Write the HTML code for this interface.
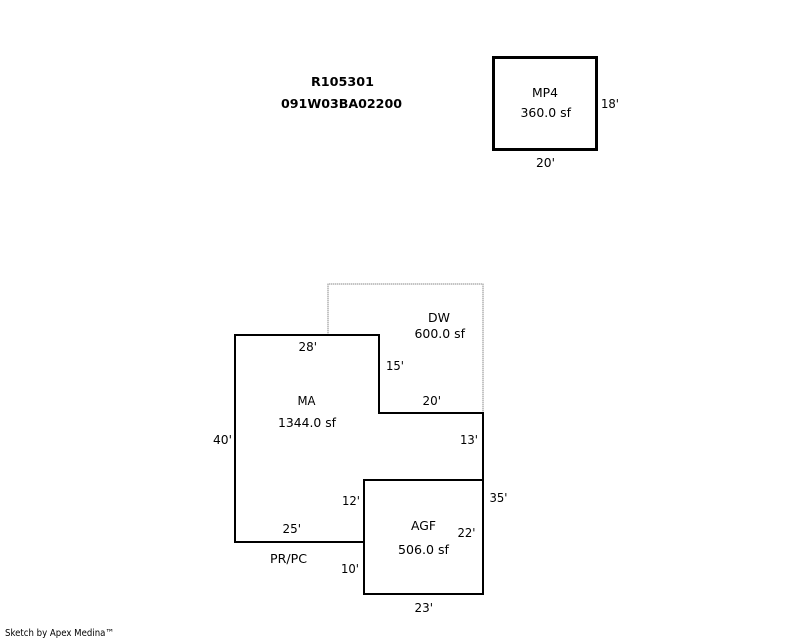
<!DOCTYPE html>
<html>
<head>
<meta charset="utf-8">
<style>
html,body{margin:0;padding:0;background:#fff;width:800px;height:640px;overflow:hidden}
svg{display:block}
text{font-family:"DejaVu Sans","Liberation Sans",sans-serif;font-size:12px;fill:#000}
.b{font-weight:bold}
</style>
</head>
<body>
<svg width="800" height="640" viewBox="0 0 800 640" xmlns="http://www.w3.org/2000/svg">
<path d="M328 335V284H483V413" fill="none" stroke="#e6e6e6" stroke-width="2" shape-rendering="crispEdges"/>
<path d="M328 335V284H483V413" fill="none" stroke="#c4c4c4" stroke-width="2" stroke-dasharray="1 1" shape-rendering="crispEdges"/>
<rect x="492" y="56" width="106" height="95" fill="#000"/>
<rect x="495" y="59" width="100" height="89" fill="#fff"/>
<path d="M235 335H379V413H483V594H364V542H235Z" fill="none" stroke="#000" stroke-width="2" shape-rendering="crispEdges"/>
<path d="M364 542V480H483" fill="none" stroke="#000" stroke-width="2" shape-rendering="crispEdges"/>

<text class="b" x="311" y="86" textLength="63" lengthAdjust="spacingAndGlyphs">R105301</text>
<text class="b" x="281" y="108" textLength="121" lengthAdjust="spacingAndGlyphs">091W03BA02200</text>
<text x="532" y="97" textLength="26" lengthAdjust="spacingAndGlyphs">MP4</text>
<text x="520.5" y="117" textLength="50.5" lengthAdjust="spacingAndGlyphs">360.0 sf</text>
<text x="601" y="108" textLength="18" lengthAdjust="spacingAndGlyphs">18'</text>
<text x="536" y="167" textLength="19" lengthAdjust="spacingAndGlyphs">20'</text>
<text x="428" y="322" textLength="22" lengthAdjust="spacingAndGlyphs">DW</text>
<text x="414.5" y="338" textLength="50.5" lengthAdjust="spacingAndGlyphs">600.0 sf</text>
<text x="298.5" y="351" textLength="18.5" lengthAdjust="spacingAndGlyphs">28'</text>
<text x="386" y="370" textLength="18" lengthAdjust="spacingAndGlyphs">15'</text>
<text x="297.5" y="405" textLength="18" lengthAdjust="spacingAndGlyphs">MA</text>
<text x="278" y="427" textLength="58" lengthAdjust="spacingAndGlyphs">1344.0 sf</text>
<text x="422.5" y="405" textLength="18.5" lengthAdjust="spacingAndGlyphs">20'</text>
<text x="213" y="444" textLength="19" lengthAdjust="spacingAndGlyphs">40'</text>
<text x="460" y="444" textLength="18" lengthAdjust="spacingAndGlyphs">13'</text>
<text x="342" y="505" textLength="18" lengthAdjust="spacingAndGlyphs">12'</text>
<text x="489.5" y="502" textLength="18" lengthAdjust="spacingAndGlyphs">35'</text>
<text x="411" y="530" textLength="25" lengthAdjust="spacingAndGlyphs">AGF</text>
<text x="457.5" y="537" textLength="18" lengthAdjust="spacingAndGlyphs">22'</text>
<text x="282.5" y="533" textLength="18.5" lengthAdjust="spacingAndGlyphs">25'</text>
<text x="398" y="554" textLength="51" lengthAdjust="spacingAndGlyphs">506.0 sf</text>
<text x="270" y="563" textLength="37" lengthAdjust="spacingAndGlyphs">PR/PC</text>
<text x="341" y="573" textLength="18" lengthAdjust="spacingAndGlyphs">10'</text>
<text x="414.5" y="612" textLength="18.5" lengthAdjust="spacingAndGlyphs">23'</text>
<text x="5" y="636" style="font-size:9.5px" textLength="109" lengthAdjust="spacingAndGlyphs">Sketch by Apex Medina™</text>
</svg>
</body>
</html>
